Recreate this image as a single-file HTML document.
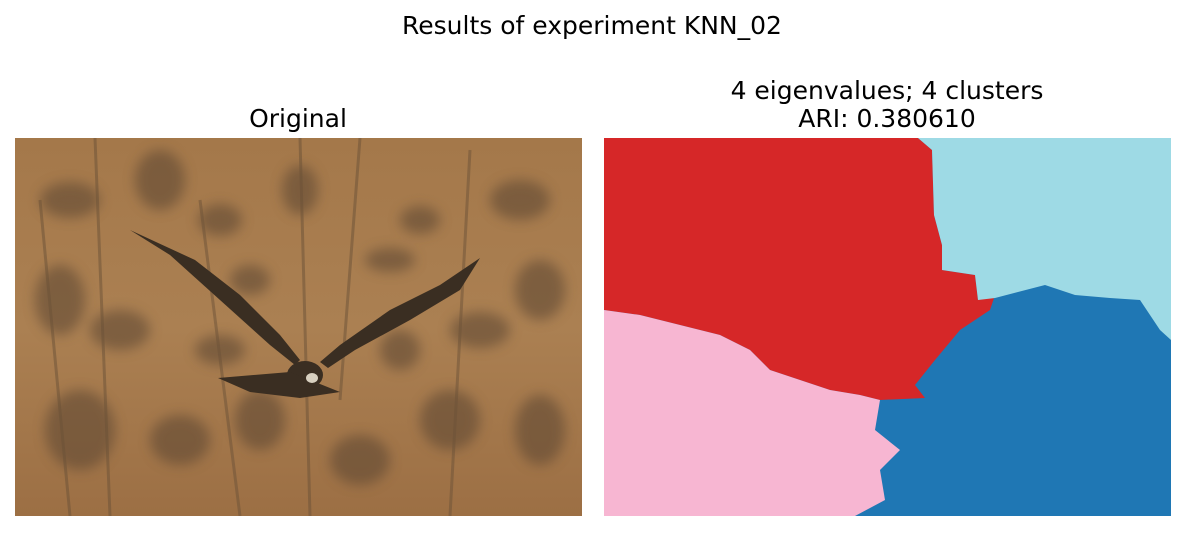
<!DOCTYPE html>
<html><head><meta charset="utf-8"><style>
body{margin:0;background:#fff;width:1185px;height:531px;overflow:hidden;font-family:"DejaVu Sans","Liberation Sans",sans-serif}
</style></head><body>
<svg width="1185" height="531" viewBox="0 0 1185 531" xmlns="http://www.w3.org/2000/svg" font-family="DejaVu Sans, Liberation Sans, sans-serif">
<defs>
<filter id="blur" x="-20%" y="-20%" width="140%" height="140%"><feGaussianBlur stdDeviation="6"/></filter>
<linearGradient id="bg" x1="0" y1="0" x2="0" y2="1"><stop offset="0" stop-color="#a4784a"/><stop offset="0.5" stop-color="#ab8052"/><stop offset="1" stop-color="#9c6f44"/></linearGradient>
<clipPath id="clipL"><rect x="15" y="138" width="567" height="378"/></clipPath>
</defs>
<text x="592" y="34" text-anchor="middle" font-size="25" fill="#000">Results of experiment KNN_02</text>
<text x="298" y="127" text-anchor="middle" font-size="25" fill="#000">Original</text>
<text x="887" y="99" text-anchor="middle" font-size="25" fill="#000">4 eigenvalues; 4 clusters</text>
<text x="887" y="127" text-anchor="middle" font-size="25" fill="#000">ARI: 0.380610</text>
<g clip-path="url(#clipL)">
<rect x="15" y="138" width="567" height="378" fill="url(#bg)"/>
<g filter="url(#blur)" fill="#5a4530" opacity="0.55">
<ellipse cx="70" cy="200" rx="30" ry="18"/><ellipse cx="160" cy="180" rx="25" ry="30"/><ellipse cx="220" cy="220" rx="22" ry="16"/>
<ellipse cx="300" cy="190" rx="18" ry="25"/><ellipse cx="390" cy="260" rx="25" ry="12"/><ellipse cx="420" cy="220" rx="20" ry="14"/>
<ellipse cx="520" cy="200" rx="30" ry="20"/><ellipse cx="540" cy="290" rx="25" ry="30"/><ellipse cx="480" cy="330" rx="30" ry="18"/>
<ellipse cx="60" cy="300" rx="25" ry="35"/><ellipse cx="120" cy="330" rx="30" ry="20"/><ellipse cx="80" cy="430" rx="35" ry="40"/>
<ellipse cx="180" cy="440" rx="30" ry="25"/><ellipse cx="260" cy="420" rx="25" ry="30"/><ellipse cx="360" cy="460" rx="30" ry="25"/>
<ellipse cx="450" cy="420" rx="30" ry="30"/><ellipse cx="540" cy="430" rx="25" ry="35"/><ellipse cx="220" cy="350" rx="25" ry="15"/>
<ellipse cx="400" cy="350" rx="20" ry="20"/><ellipse cx="250" cy="280" rx="20" ry="15"/>
</g>
<g stroke="#6b5238" stroke-width="3" opacity="0.5" fill="none">
<path d="M95 138 L110 516"/><path d="M300 138 L310 516"/><path d="M360 138 L340 400"/><path d="M40 200 L70 516"/><path d="M470 150 L450 516"/><path d="M200 200 L240 516"/>
</g>
<g fill="#3a2e22">
<path d="M130 230 L170 255 L220 300 L270 345 L295 365 L300 360 L280 335 L240 295 L195 260 Z"/>
<path d="M480 258 L440 285 L390 310 L340 345 L320 362 L328 368 L355 350 L410 320 L460 290 Z"/>
<ellipse cx="305" cy="375" rx="18" ry="14"/>
<path d="M218 378 L290 372 L340 392 L300 398 L250 392 Z"/>
</g>
<ellipse cx="312" cy="378" rx="6" ry="5" fill="#d8d0c0"/>
</g>
<g>
<rect x="604" y="138" width="567" height="378" fill="#1f77b4"/>
<polygon fill="#d62728" points="604,138 918,138 932,150 934,215 942,245 942,270 975,275 978,300 995,295 990,310 960,330 935,360 915,385 925,398 880,400 860,395 830,390 800,380 770,370 750,350 720,335 680,325 640,315 604,310"/>
<polygon fill="#9edae5" points="918,138 1171,138 1171,340 1160,330 1140,300 1110,298 1075,295 1045,285 995,298 978,300 975,275 942,270 942,245 934,215 932,150"/>
<polygon fill="#f7b6d2" points="604,310 640,315 680,325 720,335 750,350 770,370 800,380 830,390 860,395 880,400 875,430 900,450 880,470 885,500 855,516 604,516"/>
</g>
</svg>
</body></html>
